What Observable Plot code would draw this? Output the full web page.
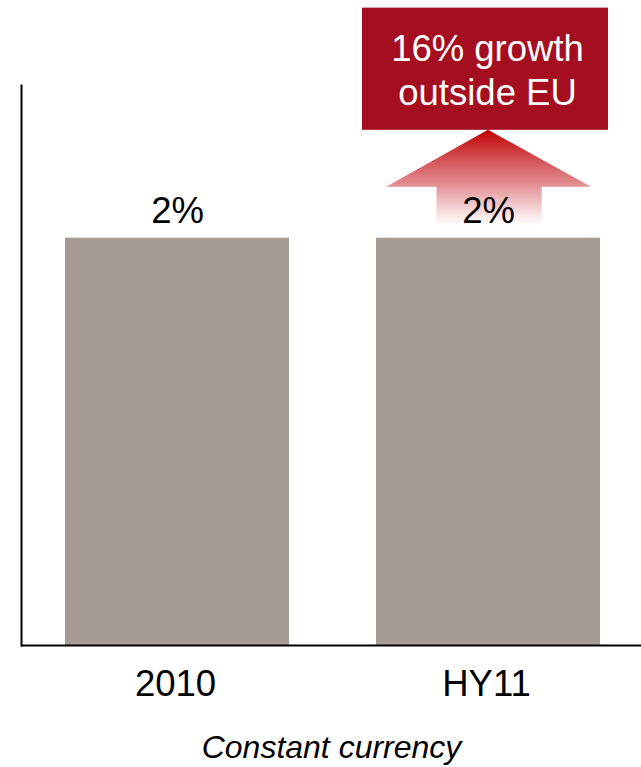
<!DOCTYPE html>
<html>
<head>
<meta charset="utf-8">
<script src="https://cdn.jsdelivr.net/npm/d3@7"></script>
<script src="https://cdn.jsdelivr.net/npm/@observablehq/plot@0.6"></script>
<style>
  html, body { margin: 0; padding: 0; background: #fff; }
</style>
</head>
<body>
<div id="chart"></div>
<script>
// ---- data ----
const categories = ["2010", "HY11"];
const values = [2, 2];
const valueLabels = ["2%", "2%"];
const calloutCategory = "HY11";
const calloutLines = "16% growth\noutside EU";
const calloutValueRange = [2.53, 3.13];   // vertical extent of callout box, in y units
const arrowValueRange = [2.06, 2.25, 2.53]; // shaft bottom, head base, tip (y units)
const captionText = "Constant currency";

const rows = categories.map((c, i) => ({cat: c, value: values[i], label: valueLabels[i]}));

const BAR = "#a59a96";
const BOX = "#a50e20";

// arrow mark drawn through the plot's scales
function arrowMark(index, scales) {
  const x = scales.x, y = scales.y;
  const x0 = x(calloutCategory);
  const bw = x.bandwidth ? x.bandwidth() : 224;
  const px = f => x0 + f * bw;
  const [vBottom, vHead, vTip] = arrowValueRange;
  const pts = [
    [px(0.27), y(vBottom)],
    [px(0.27), y(vHead)],
    [px(0.045), y(vHead)],
    [px(0.5), y(vTip)],
    [px(0.96), y(vHead)],
    [px(0.74), y(vHead)],
    [px(0.74), y(vBottom)]
  ];
  const g = d3.create("svg:g");
  const defs = g.append("defs");
  const grad = defs.append("linearGradient")
    .attr("id", "arrowGrad")
    .attr("gradientUnits", "userSpaceOnUse")
    .attr("x1", 0).attr("x2", 0)
    .attr("y1", y(vTip)).attr("y2", y(vBottom));
  grad.append("stop").attr("offset", "0%").attr("stop-color", "#c00000").attr("stop-opacity", 1);
  grad.append("stop").attr("offset", "55%").attr("stop-color", "#c8262e").attr("stop-opacity", 0.55);
  grad.append("stop").attr("offset", "100%").attr("stop-color", "#d04048").attr("stop-opacity", 0);
  g.append("path")
    .attr("d", "M" + pts.map(p => p.join(",")).join("L") + "Z")
    .attr("fill", "url(#arrowGrad)");
  return g.node();
}

const plot = Plot.plot({
  width: 641,
  height: 767,
  marginTop: 85,
  marginBottom: 122,
  marginLeft: 21,
  marginRight: 0,
  style: {
    fontFamily: "'Liberation Sans', Arial, Helvetica, sans-serif",
    fontSize: "36px",
    color: "#000",
    background: "#fff",
    overflow: "visible"
  },
  x: {domain: categories, paddingInner: 0.2797, paddingOuter: 0.1366, align: 0.518, axis: null},
  y: {domain: [0, 2.75], axis: null},
  marks: [
    Plot.barY(rows, {x: "cat", y: "value", fill: BAR}),
    Plot.ruleY([0], {stroke: "#000", strokeWidth: 2}),
    Plot.frame({anchor: "left", stroke: "#000", strokeWidth: 2}),
    Plot.axisX({tickSize: 0, tickPadding: 25, fontSize: 36.5, label: null, fill: "#000", dx: -2}),
    arrowMark,
    Plot.text(rows, {x: "cat", y: "value", text: "label", lineAnchor: "bottom", dy: -15, fontSize: 36.5, fill: "#000"}),
    Plot.barY([{cat: calloutCategory, y1: calloutValueRange[0], y2: calloutValueRange[1]}],
      {x: "cat", y1: "y1", y2: "y2", fill: BOX, insetLeft: -14, insetRight: -8}),
    Plot.text([calloutLines], {x: () => calloutCategory, y: () => (calloutValueRange[0] + calloutValueRange[1]) / 2,
      text: d => d, fill: "#fff", fontSize: 36.5, lineHeight: 1.18, dy: 0, dx: -1}),
    Plot.text([captionText], {frameAnchor: "bottom", lineAnchor: "bottom", dy: 112, text: d => d,
      fontSize: 32, fontStyle: "italic", fill: "#000"})
  ]
});

document.getElementById("chart").appendChild(plot);
</script>
</body>
</html>
